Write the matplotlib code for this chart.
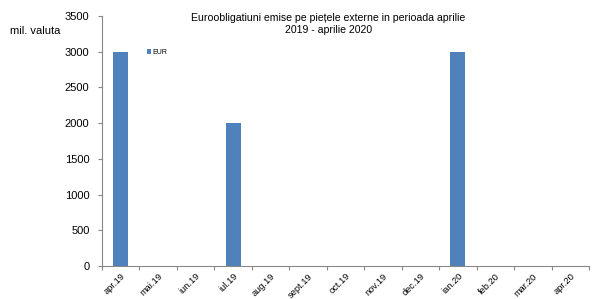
import matplotlib
matplotlib.use("Agg")
import matplotlib.pyplot as plt
from matplotlib.ticker import FixedLocator

plt.rcParams['font.family'] = ['Liberation Sans', 'DejaVu Sans']

categories = ['apr.19', 'mai.19', 'iun.19', 'iul.19', 'aug.19', 'sept.19', 'oct.19',
              'nov.19', 'dec.19', 'ian.20', 'feb.20', 'mar.20', 'apr.20']
eur = [3000, 0, 0, 2000, 0, 0, 0, 0, 0, 3000, 0, 0, 0]
yticks = [0, 500, 1000, 1500, 2000, 2500, 3000, 3500]

fig = plt.figure(figsize=(5.94, 2.99), dpi=100)
ax = fig.add_axes([0.1717, 0.1104, 0.82, 0.836])

x = list(range(len(categories)))
ax.bar(x, eur, width=0.4, color='#4F81BD', label='EUR', zorder=2)

ax.set_xlim(-0.5, len(categories) - 0.5)
ax.set_ylim(0, 3500)
ax.set_yticks(yticks)
ax.set_yticklabels([str(v) for v in yticks], fontsize=8)

ax.xaxis.set_major_locator(FixedLocator([i - 0.5 for i in range(len(categories) + 1)]))
ax.set_xticklabels([])
ax.set_xticks(x, minor=True)
ax.set_xticklabels(categories, minor=True, rotation=45, ha='right',
                   rotation_mode='anchor', fontsize=6.7)
ax.tick_params(axis='x', which='minor', length=0, pad=4)
ax.tick_params(axis='x', which='major', length=3, color='#888888')
ax.tick_params(axis='y', length=3, color='#888888', pad=6)

for s in ['top', 'right']:
    ax.spines[s].set_visible(False)
for s in ['left', 'bottom']:
    ax.spines[s].set_color('#888888')
    ax.spines[s].set_linewidth(0.8)

fig.text(0.553, 0.955, 'Euroobligatiuni emise pe piețele externe in perioada aprilie\n2019 - aprilie 2020',
         ha='center', va='top', fontsize=7.6, linespacing=1.25)
fig.text(0.017, 0.895, 'mil. valuta', ha='left', va='center', fontsize=8)

leg = ax.legend(loc='center left', bbox_to_anchor=(0.085, 0.855), frameon=False,
                fontsize=5, handlelength=0.6, handleheight=0.6, handletextpad=0.2,
                borderpad=0)

fig.savefig('out.png', dpi=100)
